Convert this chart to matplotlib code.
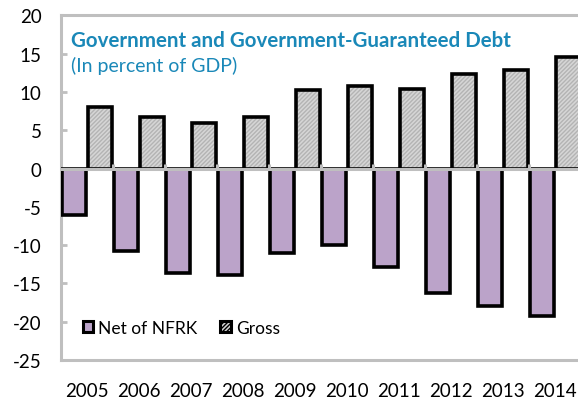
import numpy as np
import matplotlib
matplotlib.use("Agg")
import matplotlib.pyplot as plt
from matplotlib.patches import Patch

plt.rcParams['font.family'] = ['Lato', 'DejaVu Sans']

years = ['2005', '2006', '2007', '2008', '2009', '2010', '2011', '2012', '2013', '2014']
net_of_nfrk = [-6.0, -10.7, -13.6, -13.9, -11.0, -10.0, -12.9, -16.2, -17.9, -19.3]
gross = [8.1, 6.8, 6.0, 6.8, 10.3, 10.8, 10.4, 12.4, 12.9, 14.6]

purple = '#bba3c9'
grey_fill = '#d6d6d6'
axis_grey = '#bfbfbf'
title_blue = '#1a88b8'

fig = plt.figure(figsize=(5.78, 4.02), dpi=100)
# plot area runs a little past the right edge of the figure
ax = fig.add_axes([0.1055, 0.102, 0.8997, 0.857])

x = np.arange(len(years))
w = 0.46
ax.bar(x - 0.25, net_of_nfrk, w, color=purple, edgecolor='black', linewidth=2.6, zorder=3)
# hatched fill first, then the black outline on top
ax.bar(x + 0.25, gross, w, color=grey_fill, edgecolor='#b4b4b4', hatch='////////',
       linewidth=0, zorder=3)
ax.bar(x + 0.25, gross, w, fill=False, edgecolor='black', linewidth=2.6, zorder=4)

ax.set_xlim(-0.5, len(years) - 0.5)
ax.set_ylim(-25, 20)
ax.set_yticks(np.arange(-25, 21, 5))
ax.set_yticklabels([str(v) for v in range(-25, 21, 5)], fontsize=13.5)

# zero line with small upward ticks at category boundaries
ax.axhline(0, color=axis_grey, linewidth=2.2, zorder=5)
for b in np.arange(0.5, len(years) - 0.5, 1.0):
    ax.plot([b, b], [0, 0.6], color=axis_grey, linewidth=2.2, zorder=5,
            solid_capstyle='butt')

ax.set_xticks(x)
ax.set_xticklabels(years, fontsize=13.5)
ax.tick_params(axis='x', length=0, pad=16)
ax.tick_params(axis='y', direction='in', length=4, width=2, color=axis_grey, pad=14)

for s in ax.spines.values():
    s.set_color(axis_grey)
    s.set_linewidth(2.2)

ax.text(0.02, 0.91, 'Government and Government-Guaranteed Debt', transform=ax.transAxes,
        fontsize=14.8, fontweight='bold', color=title_blue)
ax.text(0.02, 0.84, '(In percent of GDP)', transform=ax.transAxes,
        fontsize=14, color=title_blue)

handles = [Patch(facecolor=purple, edgecolor='black', linewidth=2.2),
           Patch(facecolor=grey_fill, edgecolor='black', linewidth=2.2, hatch='////////')]
ax.legend(handles, ['Net of NFRK', 'Gross'], loc='lower left', bbox_to_anchor=(0.012, 0.025),
          ncol=2, frameon=False, fontsize=12.5, handlelength=0.6, handleheight=0.6,
          handletextpad=0.3, columnspacing=1.3)

fig.savefig('out.png', dpi=100)
